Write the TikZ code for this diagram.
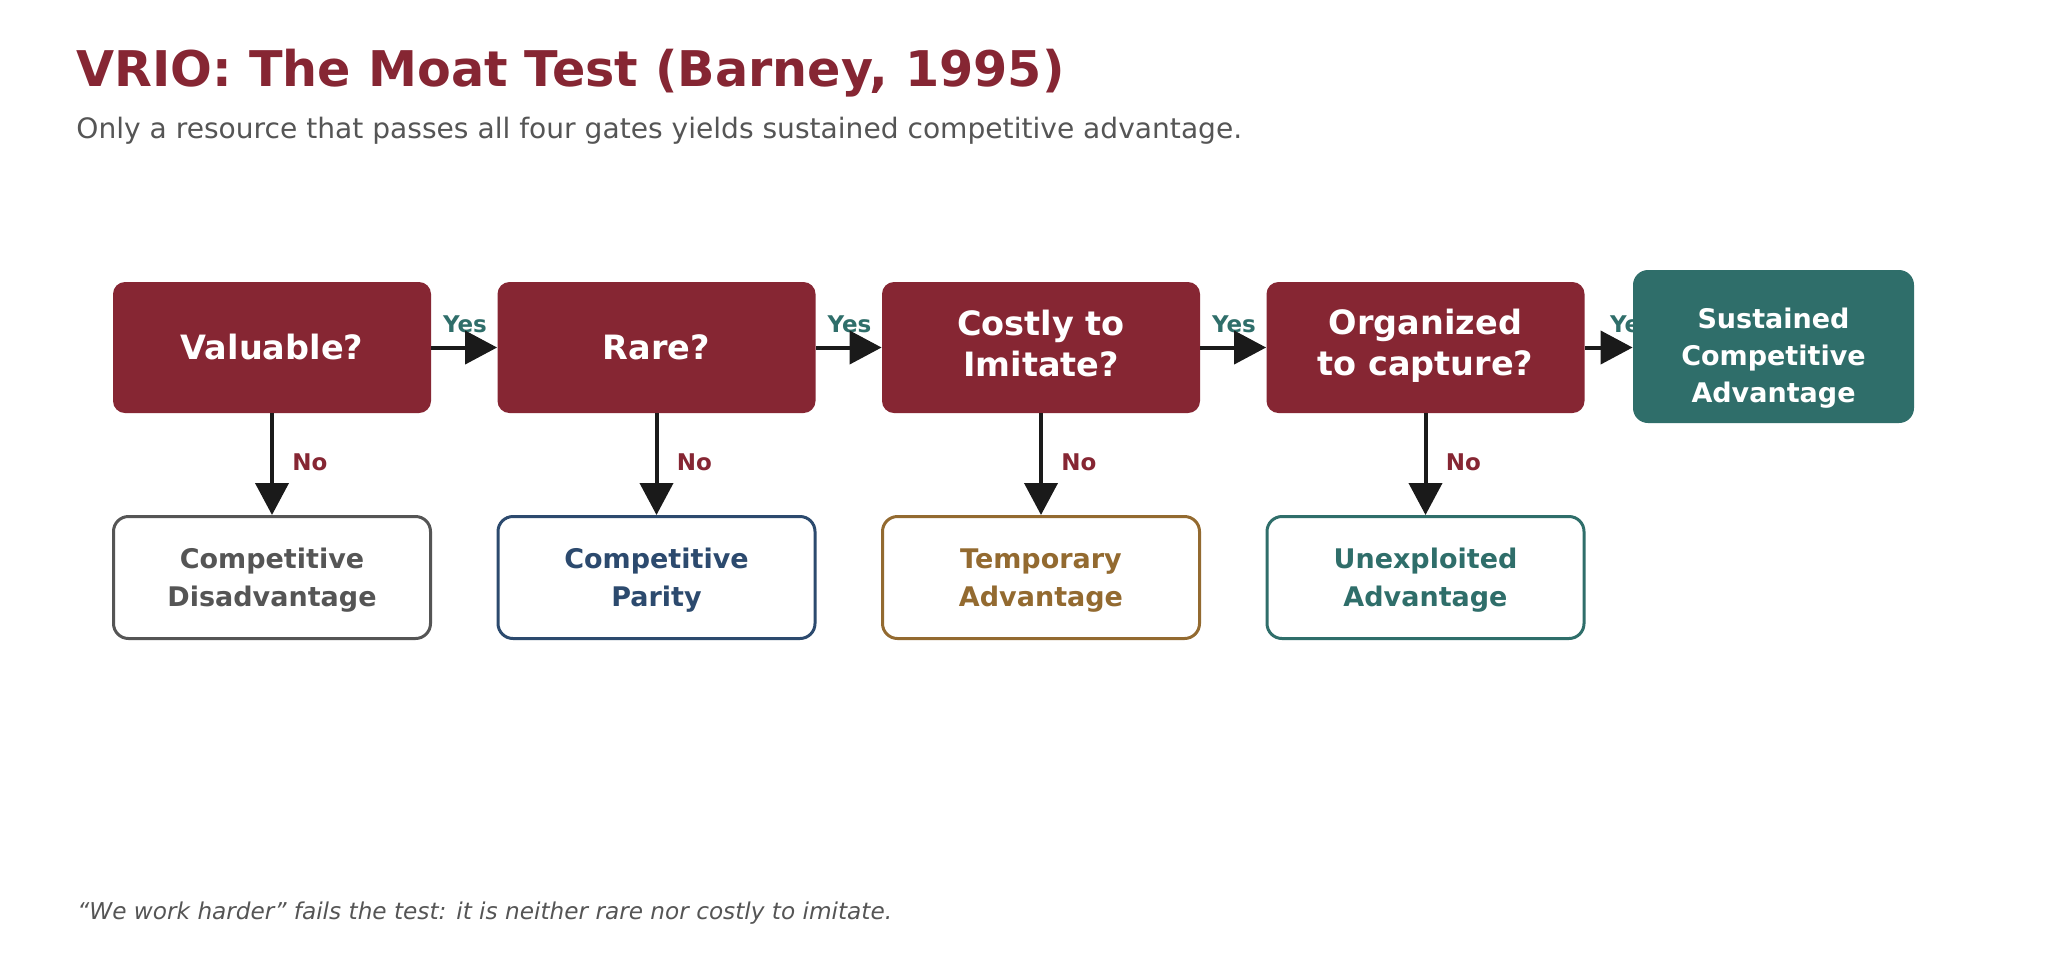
\documentclass[tikz,border=0pt]{standalone}
\usepackage{fontspec}
\setmainfont{DejaVu Sans}[ItalicFont={DejaVu Sans Oblique},BoldFont={DejaVu Sans Bold},BoldItalicFont={DejaVu Sans Bold Oblique}]
\usetikzlibrary{arrows.meta,positioning,calc}
\definecolor{maroon}{HTML}{862633}
\definecolor{teal}{HTML}{2F6E6A}
\definecolor{graytxt}{HTML}{555555}
\definecolor{navy}{HTML}{2C4A6E}
\definecolor{brownc}{HTML}{936A30}
\definecolor{arrowc}{HTML}{1A1A1A}
\begin{document}
\begin{tikzpicture}[x=0.5pt,y=-0.5pt,
  gate/.style={rectangle,rounded corners=6pt,fill=maroon,text=white,
    minimum width=159pt,minimum height=65.5pt,inner sep=0pt,align=center,
    font=\fontsize{16.75pt}{20.3pt}\selectfont\bfseries},
  outcome/.style={rectangle,rounded corners=7.5pt,draw=#1,line width=1.5pt,fill=white,text=#1,
    minimum width=158.5pt,minimum height=61pt,inner sep=0pt,align=center,text depth=0pt,
    font=\fontsize{13.5pt}{18.9pt}\selectfont\bfseries},
  final/.style={rectangle,rounded corners=7.5pt,fill=teal,
    minimum width=140.5pt,minimum height=76.5pt,inner sep=0pt},
  finaltext/.style={inner sep=0pt,align=center,text=white,text depth=0pt,
    font=\fontsize{13.5pt}{18.6pt}\selectfont\bfseries},
  flow/.style={draw=arrowc,line width=2pt,-{Triangle[length=16pt,width=16.5pt]}},
  yeslbl/.style={anchor=base,inner sep=0pt,text=teal,font=\fontsize{11.5pt}{14pt}\selectfont\bfseries},
  nolbl/.style={anchor=base west,inner sep=0pt,text=maroon,font=\fontsize{11.5pt}{14pt}\selectfont\bfseries}
]
\useasboundingbox (0,0) rectangle (2046,976);
\fill[white] (0,0) rectangle (2046,976);

\node[anchor=base west,inner sep=0pt,text=maroon,font=\fontsize{24.6pt}{29pt}\selectfont\bfseries] (title) at (76,86) {VRIO: The Moat Test (Barney, 1995)};
\node[anchor=base west,inner sep=0pt,text=graytxt,font=\fontsize{14.05pt}{17pt}\selectfont] (subtitle) at (76,138) {Only a resource that passes all four gates yields sustained competitive advantage.};

\node[gate] (v) at (272,347.5) {Valuable?};
\node[gate] (r) at (656.5,347.5) {Rare?};
\node[gate,text depth=4.5pt] (i) at (1041,347.5) {Costly to\\Imitate?};
\node[gate,text depth=5.5pt] (o) at (1425.5,347.5) {Organized\\to capture?};

\node[outcome=graytxt] (cd) at (272,577.5) {Competitive\\Disadvantage};
\node[outcome=navy] (cp) at (656.5,577.5) {Competitive\\Parity};
\node[outcome=brownc] (ta) at (1041,577.5) {Temporary\\Advantage};
\node[outcome=teal] (ua) at (1425.5,577.5) {Unexploited\\Advantage};

\node[yeslbl] (y1) at (465,332) {Yes};
\node[yeslbl] (y2) at (849.5,332) {Yes};
\node[yeslbl] (y3) at (1234,332) {Yes};
\node[yeslbl] (y4) at (1632,332) {Yes};

\node[final] (sca) at (1773.5,346.5) {};
\node[finaltext] (scatext) at ($(sca.center)+(0,9)$) {Sustained\\Competitive\\Advantage};

\draw[flow] (v.east) -- (r.west);
\draw[flow] (r.east) -- (i.west);
\draw[flow] (i.east) -- (o.west);
\draw[flow] (o.east) -- (o.east -| sca.west);

\draw[flow] (v.south) -- (cd.north);
\draw[flow] (r.south) -- (cp.north);
\draw[flow] (i.south) -- (ta.north);
\draw[flow] (o.south) -- (ua.north);

\node[nolbl] (n1) at (292,470) {No};
\node[nolbl] (n2) at (676.5,470) {No};
\node[nolbl] (n3) at (1061,470) {No};
\node[nolbl] (n4) at (1445.5,470) {No};

\node[anchor=base west,inner sep=0pt,text=graytxt,font=\fontsize{11.6pt}{14pt}\selectfont\itshape] (foot) at (77,919) {“We work harder” fails the test: it is neither rare nor costly to imitate.};
\end{tikzpicture}
\end{document}
